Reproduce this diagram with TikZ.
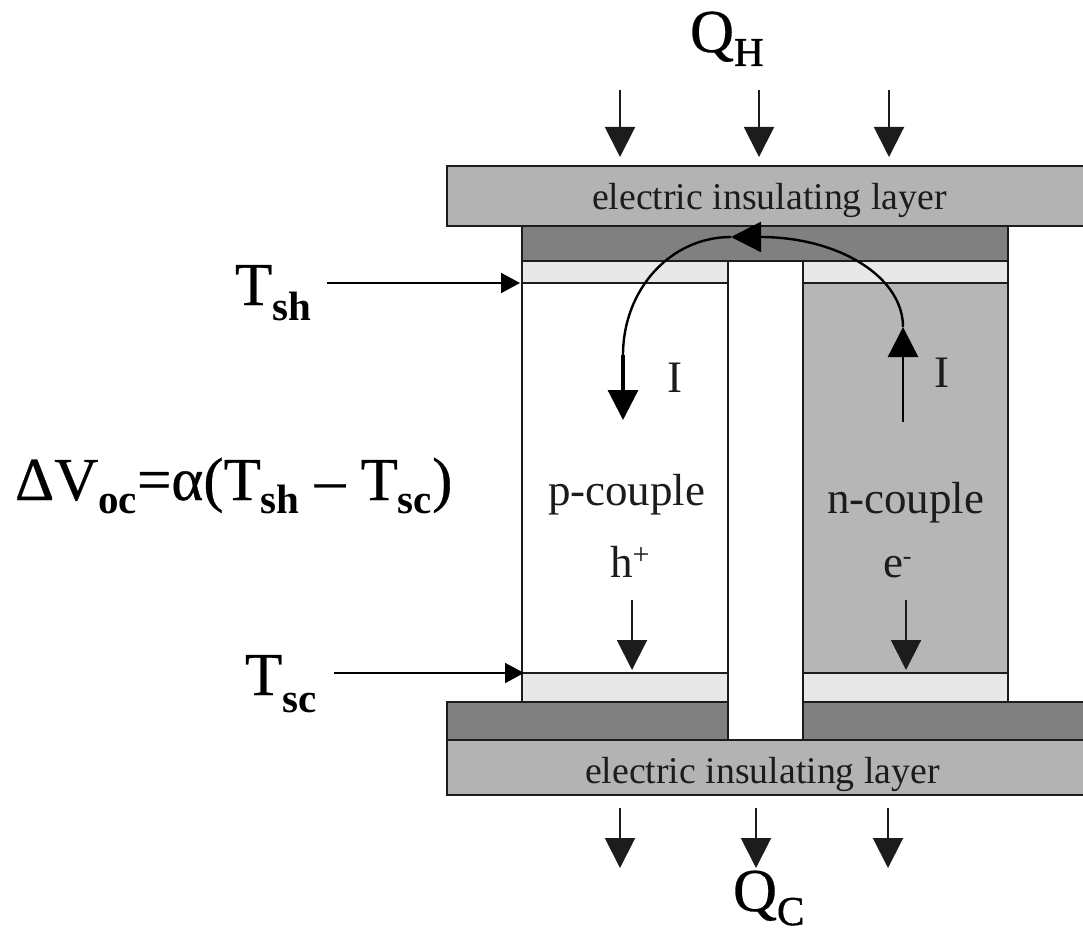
\documentclass[tikz,border=0pt]{standalone}
\usepackage{fontspec}
\setmainfont{Liberation Serif}
\newfontfamily\heavyfont[FakeBold=0.5]{Liberation Serif}
\newfontfamily\subfont[FakeBold=1.2]{Liberation Serif}
\usetikzlibrary{arrows.meta}
\definecolor{ink}{HTML}{1C1C1C}
\definecolor{insul}{HTML}{B3B3B3}
\definecolor{cond}{HTML}{808080}
\definecolor{contact}{HTML}{E8E8E8}
\definecolor{ncoup}{HTML}{B6B6B6}
\tikzset{
  layer/.style={draw=ink,line width=2.4pt},
  big head/.style={-{Triangle[width=30pt,length=30pt]}},
  flow/.style={draw=ink,line width=2pt,big head},
  probe/.style={draw=black,line width=1.8pt,-{Triangle[width=20pt,length=19pt]}},
  current/.style={draw=black,line width=2.4pt},
  txt/.style={anchor=base west,inner sep=0pt,outer sep=0pt,text=ink},
  lbl/.style={txt,font=\fontsize{37.8}{38}\selectfont},
  midlbl/.style={txt,font=\fontsize{45}{45}\selectfont},
  sym/.style={txt,text=black,font=\heavyfont\fontsize{61}{61}\selectfont},
}
\newcommand{\subdrop}[2]{\raisebox{-#1pt}{\subfont\fontsize{41}{41}\selectfont #2}}
\newcommand{\subbold}[2]{\raisebox{-#1pt}{\rmfamily\bfseries\fontsize{41}{41}\selectfont #2}}
\newcommand{\supraise}[2]{\raisebox{13pt}{\fontsize{#1}{#1}\selectfont #2}}
\begin{document}
\begin{tikzpicture}[x=1pt,y=-1pt]
\useasboundingbox (0,0) rectangle (1083,933);
% rectangles
\fill[ncoup] (803,283) rectangle (1008,673);
\draw[layer,fill=contact] (522,261) rectangle (728,283);
\draw[layer,fill=contact] (803,261) rectangle (1008,283);
\draw[layer,fill=contact] (522,673) rectangle (728,702);
\draw[layer,fill=contact] (803,673) rectangle (1008,702);
\draw[layer] (522,283) -- (522,673);
\draw[layer] (728,283) -- (728,673);
\draw[layer] (803,283) -- (803,673);
\draw[layer] (1008,283) -- (1008,673);
\draw[layer,fill=cond] (522,226) rectangle (1008,261);
\draw[layer,fill=cond] (447,702) rectangle (728,740);
\draw[layer,fill=cond] (803,702) rectangle (1084,740);
\draw[layer,fill=insul] (447,166) rectangle (1084,226);
\draw[layer,fill=insul] (447,740) rectangle (1084,795);
% texts
\node[lbl] (top) at (592,210) {electric insulating layer};
\node[lbl] (bot) at (585,783) {electric insulating layer};
\node[midlbl] (pc) at (548,505) {p-couple};
\node[midlbl] (nc) at (827,513) {n-couple};
\node[midlbl] (hp) at (610,577) {h\supraise{30}{+}};
\node[midlbl] (em) at (883,577) {e\supraise{26}{-}};
\node[midlbl] (il) at (667,392) {I};
\node[midlbl] (ir) at (934,387) {I};
\node[sym] (qh) at (690,52) {Q\subdrop{14}{H}};
\node[sym] (qc) at (733,911) {Q\subdrop{14}{C}};
\node[sym] (tsh) at (235,305) {T\subbold{15}{sh}};
\node[sym] (tsc) at (245,695) {T\subbold{17}{sc}};
\node[sym] (eq) at (15,500) {ΔV\subbold{13}{oc}=α(T\subbold{13}{sh} – T\subbold{13}{sc})};
% heat flow
\foreach \n/\x/\ya/\yb in {a/620/90/157,b/759/90/157,c/889/90/157,d/620/808/868,e/756/808/868,f/888/808/868,g/632/600/670,h/906/600/670}{
  \coordinate (\n0) at (\x,\ya);
  \coordinate (\n1) at (\x,\yb);
  \draw[flow] (\n0) -- (\n1);
}
% temperature probes
\coordinate (shs) at (327,283);
\coordinate (she) at (520,283);
\coordinate (scs) at (334,673);
\coordinate (sce) at (524,673);
\draw[probe] (shs) -- (she);
\draw[probe] (scs) -- (sce);
% current loop
\coordinate (i0) at (903,422);
\coordinate (i1) at (903,327);
\coordinate (i2) at (760,237);
\coordinate (i3) at (731,237);
\coordinate (i4) at (623,355);
\coordinate (i5) at (623,420);
\draw[current,big head] (i0) -- (i1);
\draw[current] (i1) .. controls (903,277) and (839,237) .. (i2);
\draw[current,big head] (i2) -- (i3);
\draw[current] (i3) .. controls (670,237) and (623,290) .. (i4);
\draw[current,line width=3.2pt,big head] (i4) -- (i5);
\end{tikzpicture}
\end{document}
